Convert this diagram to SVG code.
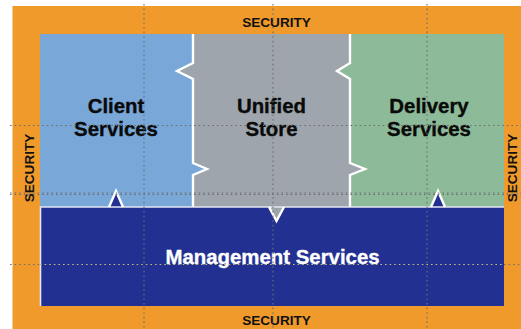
<svg xmlns="http://www.w3.org/2000/svg" width="521" height="329" viewBox="0 0 521 329">
<style>
text{font-family:"Liberation Sans",Arial,sans-serif;font-weight:bold;text-anchor:middle}
.sec{font-size:13.6px;fill:#111}
.big{font-size:20.4px;fill:#0a0a0a;stroke:#0a0a0a;stroke-width:.35}
.edge{fill:none;stroke:#fff;stroke-width:2.4;stroke-linejoin:miter}
.thin{fill:none;stroke:#e4e6f0;stroke-width:1.6}
.dot{fill:none;stroke:#6f6f6f;stroke-width:1.1;stroke-dasharray:1.6 3}
.dotn{fill:none;stroke:#c4bd80;stroke-width:1.1;stroke-dasharray:1.6 3}
</style>
<rect width="521" height="329" fill="#fff"/>
<g id="security">
<rect x="12.500" y="6" width="508.500" height="323" fill="#ef9a2b"/>
<text class="sec" x="276.500" y="27">SECURITY</text>
<text class="sec" x="276.500" y="325">SECURITY</text>
<text class="sec" transform="translate(33.500,168) rotate(-90)">SECURITY</text>
<text class="sec" transform="translate(517,168) rotate(-90)">SECURITY</text>
</g>
<g id="client-services">
<path d="M40 34H193V63L177 71L193 79V163L207 169L193 175V207H123L116 191L109 207H40Z" fill="#78a7d8"/>
<text class="big" x="116" y="113">Client</text>
<text class="big" x="116" y="136">Services</text>
</g>
<g id="unified-store">
<path d="M193 34H350V63L337 71L350 79V163L365 169L350 175V207H284L276.500 221L269 207H193V175L207 169L193 163V79L177 71L193 63Z" fill="#9ea5ac"/>
<text class="big" x="271.500" y="113">Unified</text>
<text class="big" x="271.500" y="136">Store</text>
</g>
<g id="delivery-services">
<path d="M350 34H504V207H445L438 191L431 207H350V175L365 169L350 163V79L337 71L350 63Z" fill="#8dba98"/>
<text class="big" x="429" y="113">Delivery</text>
<text class="big" x="429" y="136">Services</text>
</g>
<g id="management-services">
<path d="M40 207H109L116 191L123 207H269L276.500 221L284 207H431L438 191L445 207H504V306H40Z" fill="#223092"/>
<text class="big" x="272.500" y="264" style="fill:#fff;stroke:#fff">Management Services</text>
</g>
<g id="connectors">
<path class="edge" d="M193 34V63L177 71L193 79V163L207 169L193 175V207"/>
<path class="edge" d="M350 34V63L337 71L350 79V163L365 169L350 175V207"/>
<path class="thin" d="M40.500 306V207H504"/>
<path class="edge" d="M109 207L116 191L123 207M269 207L276.500 221L284 207M431 207L438 191L445 207"/>
<path class="dot" d="M144 4V329M273 4V329M427 4V329M10 125.500H521M10 193H521M10 194.500H521M10 264.500H40M504 264.500H521"/>
<path class="dotn" d="M40 264.500H504"/>
</g>
</svg>
